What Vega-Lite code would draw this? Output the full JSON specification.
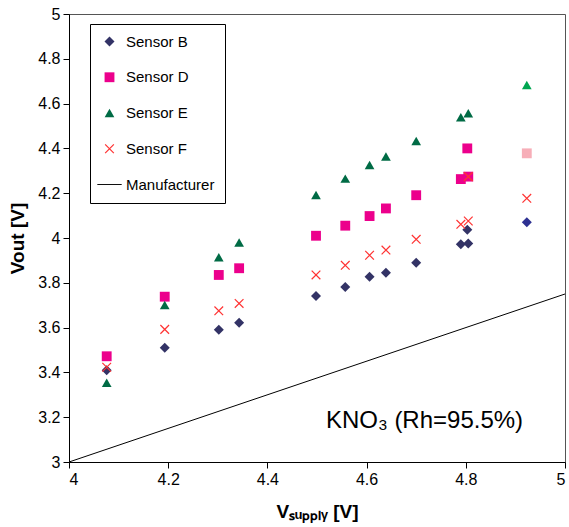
{
  "$schema": "https://vega.github.io/schema/vega-lite/v6.json",
  "width": 496,
  "height": 448,
  "autosize": {"type": "none"},
  "padding": {"left": 69, "top": 14, "right": 4, "bottom": 65},
  "background": "white",
  "config": {
    "font": "Liberation Sans",
    "view": {"stroke": "#555555", "strokeWidth": 1},
    "axis": {
      "grid": false,
      "domainColor": "#000000",
      "tickColor": "#000000",
      "labelColor": "#000000",
      "titleColor": "#000000",
      "labelFont": "Liberation Sans",
      "titleFont": "Liberation Sans",
      "labelFontSize": 16,
      "titleFontSize": 19,
      "titleFontWeight": "bold",
      "tickSize": 6,
      "labelPadding": 3
    },
    "legend": {
      "orient": "none",
      "legendX": 21,
      "legendY": 10,
      "strokeColor": "#000000",
      "fillColor": "white",
      "padding": 10,
      "rowPadding": 19.75,
      "labelFont": "Liberation Sans",
      "labelFontSize": 15,
      "labelColor": "#000000",
      "symbolSize": 100,
      "symbolOffset": 2,
      "labelOffset": 9,
      "symbolStrokeWidth": 0
    }
  },
  "layer": [
    {
      "data": {"values": [
        {"sensor": "Manufacturer", "Vsupply": 4, "Vout": 3},
        {"sensor": "Manufacturer", "Vsupply": 5, "Vout": 3.75}
      ]},
      "mark": {"type": "line", "strokeWidth": 1},
      "encoding": {
        "x": {"field": "Vsupply", "type": "quantitative", "scale": {"domain": [4, 5], "nice": false}},
        "y": {"field": "Vout", "type": "quantitative", "scale": {"domain": [3, 5], "nice": false}},
        "color": {
          "field": "sensor", "type": "nominal",
          "scale": {"domain": ["Sensor B", "Sensor D", "Sensor E", "Sensor F", "Manufacturer"],
                    "range": ["#333366", "#EC008C", "#006B45", "#FF3333", "#000000"]},
          "legend": {"title": null}
        }
      }
    },
    {
      "data": {"values": [
        {"sensor": "Sensor B", "Vsupply": 4.076, "Vout": 3.410},
        {"sensor": "Sensor B", "Vsupply": 4.193, "Vout": 3.510},
        {"sensor": "Sensor B", "Vsupply": 4.302, "Vout": 3.590},
        {"sensor": "Sensor B", "Vsupply": 4.343, "Vout": 3.622},
        {"sensor": "Sensor B", "Vsupply": 4.498, "Vout": 3.741},
        {"sensor": "Sensor B", "Vsupply": 4.557, "Vout": 3.781},
        {"sensor": "Sensor B", "Vsupply": 4.606, "Vout": 3.827},
        {"sensor": "Sensor B", "Vsupply": 4.639, "Vout": 3.845},
        {"sensor": "Sensor B", "Vsupply": 4.700, "Vout": 3.890},
        {"sensor": "Sensor B", "Vsupply": 4.790, "Vout": 3.972},
        {"sensor": "Sensor B", "Vsupply": 4.805, "Vout": 3.976},
        {"sensor": "Sensor B", "Vsupply": 4.803, "Vout": 4.037},
        {"sensor": "Sensor B", "Vsupply": 4.923, "Vout": 4.070},
        {"sensor": "Sensor D", "Vsupply": 4.076, "Vout": 3.472},
        {"sensor": "Sensor D", "Vsupply": 4.193, "Vout": 3.738},
        {"sensor": "Sensor D", "Vsupply": 4.302, "Vout": 3.835},
        {"sensor": "Sensor D", "Vsupply": 4.343, "Vout": 3.865},
        {"sensor": "Sensor D", "Vsupply": 4.498, "Vout": 4.010},
        {"sensor": "Sensor D", "Vsupply": 4.557, "Vout": 4.055},
        {"sensor": "Sensor D", "Vsupply": 4.606, "Vout": 4.098},
        {"sensor": "Sensor D", "Vsupply": 4.639, "Vout": 4.132},
        {"sensor": "Sensor D", "Vsupply": 4.700, "Vout": 4.191},
        {"sensor": "Sensor D", "Vsupply": 4.790, "Vout": 4.263},
        {"sensor": "Sensor D", "Vsupply": 4.805, "Vout": 4.274},
        {"sensor": "Sensor D", "Vsupply": 4.803, "Vout": 4.400},
        {"sensor": "Sensor D", "Vsupply": 4.923, "Vout": 4.378},
        {"sensor": "Sensor E", "Vsupply": 4.076, "Vout": 3.354},
        {"sensor": "Sensor E", "Vsupply": 4.193, "Vout": 3.701},
        {"sensor": "Sensor E", "Vsupply": 4.302, "Vout": 3.914},
        {"sensor": "Sensor E", "Vsupply": 4.343, "Vout": 3.980},
        {"sensor": "Sensor E", "Vsupply": 4.498, "Vout": 4.192},
        {"sensor": "Sensor E", "Vsupply": 4.557, "Vout": 4.265},
        {"sensor": "Sensor E", "Vsupply": 4.606, "Vout": 4.326},
        {"sensor": "Sensor E", "Vsupply": 4.639, "Vout": 4.364},
        {"sensor": "Sensor E", "Vsupply": 4.700, "Vout": 4.433},
        {"sensor": "Sensor E", "Vsupply": 4.790, "Vout": 4.539},
        {"sensor": "Sensor E", "Vsupply": 4.805, "Vout": 4.557},
        {"sensor": "Sensor E", "Vsupply": 4.923, "Vout": 4.683},
        {"sensor": "Sensor F", "Vsupply": 4.076, "Vout": 3.423},
        {"sensor": "Sensor F", "Vsupply": 4.193, "Vout": 3.592},
        {"sensor": "Sensor F", "Vsupply": 4.302, "Vout": 3.675},
        {"sensor": "Sensor F", "Vsupply": 4.343, "Vout": 3.708},
        {"sensor": "Sensor F", "Vsupply": 4.498, "Vout": 3.835},
        {"sensor": "Sensor F", "Vsupply": 4.557, "Vout": 3.878},
        {"sensor": "Sensor F", "Vsupply": 4.606, "Vout": 3.923},
        {"sensor": "Sensor F", "Vsupply": 4.639, "Vout": 3.946},
        {"sensor": "Sensor F", "Vsupply": 4.700, "Vout": 3.994},
        {"sensor": "Sensor F", "Vsupply": 4.790, "Vout": 4.061},
        {"sensor": "Sensor F", "Vsupply": 4.805, "Vout": 4.076},
        {"sensor": "Sensor F", "Vsupply": 4.805, "Vout": 4.274},
        {"sensor": "Sensor F", "Vsupply": 4.923, "Vout": 4.177}
      ]},
      "mark": {"type": "point", "filled": true, "opacity": 1},
      "encoding": {
        "x": {"field": "Vsupply", "type": "quantitative", "scale": {"domain": [4, 5], "nice": false},
              "axis": {"values": [4, 4.2, 4.4, 4.6, 4.8, 5], "format": ".1~f", "title": "Vₛᵤₚₚₗᵧ [V]", "titlePadding": 15}},
        "y": {"field": "Vout", "type": "quantitative", "scale": {"domain": [3, 5], "nice": false},
              "axis": {"values": [3, 3.2, 3.4, 3.6, 3.8, 4, 4.2, 4.4, 4.6, 4.8, 5], "format": ".1~f", "title": "Vout [V]", "titlePadding": 10}},
        "color": {
          "condition": [
            {"test": "datum.Vsupply > 4.9 && datum.sensor == 'Sensor D'", "value": "#F7AEB8"},
            {"test": "datum.Vsupply > 4.9 && datum.sensor == 'Sensor E'", "value": "#00A651"},
            {"test": "datum.Vsupply > 4.9 && datum.sensor == 'Sensor B'", "value": "#2E3192"}
          ],
          "field": "sensor", "type": "nominal",
          "scale": {"domain": ["Sensor B", "Sensor D", "Sensor E", "Sensor F", "Manufacturer"],
                    "range": ["#333366", "#EC008C", "#006B45", "#FF3333", "#000000"]},
          "legend": {"title": null}
        },
        "shape": {
          "field": "sensor", "type": "nominal",
          "scale": {"domain": ["Sensor B", "Sensor D", "Sensor E", "Sensor F", "Manufacturer"],
                    "range": ["diamond", "square", "triangle-up",
                              "M-1,-0.82L-0.82,-1L1,0.82L0.82,1Z M1,-0.82L-0.82,1L-1,0.82L0.82,-1Z",
                              "M-2.6,-0.1L2.6,-0.1L2.6,0.1L-2.6,0.1Z"]},
          "legend": {"title": null}
        },
        "size": {
          "field": "sensor", "type": "nominal",
          "scale": {"domain": ["Sensor B", "Sensor D", "Sensor E", "Sensor F", "Manufacturer"],
                    "range": [100, 88, 130, 110, 100]},
          "legend": null
        }
      }
    },
    {
      "data": {"values": [{"Vsupply": 4.518, "Vout": 3.153, "label": "KNO₃ (Rh=95.5%)"}]},
      "mark": {"type": "text", "align": "left", "baseline": "alphabetic", "fontSize": 24, "font": "Liberation Sans", "color": "#000000"},
      "encoding": {
        "x": {"field": "Vsupply", "type": "quantitative"},
        "y": {"field": "Vout", "type": "quantitative"},
        "text": {"field": "label"}
      }
    }
  ]
}
